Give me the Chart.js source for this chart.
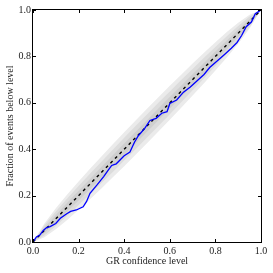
<!DOCTYPE html>
<html>
<head>
<meta charset="utf-8">
<script src="https://cdn.jsdelivr.net/npm/chart.js@4.4.1/dist/chart.umd.min.js"></script>
<style>
  html, body { margin: 0; padding: 0; background: #fff; }
  #wrap { width: 273px; height: 273px; }
</style>
</head>
<body>
<div id="wrap"><canvas id="pp"></canvas></div>
<script>
"use strict";

// measured P-P curve (GR confidence level vs fraction of events below it)
const confLevel = [0, 0.015, 0.03, 0.045, 0.06, 0.075, 0.1, 0.12, 0.148, 0.165, 0.19, 0.22, 0.235, 0.25,
    0.28, 0.31, 0.33, 0.345, 0.365, 0.40, 0.425, 0.445, 0.462, 0.49, 0.513, 0.54, 0.565, 0.588, 0.6,
    0.63, 0.66, 0.69, 0.72, 0.75, 0.775, 0.81, 0.84, 0.87, 0.895, 0.915, 0.935, 0.958, 0.975, 1];
const fracBelow = [0, 0.022, 0.03, 0.05, 0.062, 0.066, 0.08, 0.102, 0.122, 0.132, 0.138, 0.152, 0.175, 0.21,
    0.245, 0.282, 0.31, 0.33, 0.337, 0.372, 0.388, 0.43, 0.458, 0.49, 0.524, 0.533, 0.555, 0.562, 0.597,
    0.612, 0.646, 0.668, 0.695, 0.722, 0.752, 0.782, 0.808, 0.835, 0.86, 0.89, 0.928, 0.948, 0.984, 1];

// confidence bands: half widths around the diagonal
const bandX = [0, 0.05, 0.1, 0.15, 0.2, 0.25, 0.3, 0.35, 0.4, 0.45, 0.5, 0.55, 0.6, 0.65, 0.7, 0.75, 0.8, 0.85, 0.9, 0.95, 1];
const width1 = [0, 0.011, 0.016, 0.019, 0.021, 0.022, 0.023, 0.024, 0.025, 0.025, 0.025, 0.025, 0.025, 0.024, 0.023, 0.022, 0.021, 0.019, 0.016, 0.011, 0];
const width2 = [0, 0.022, 0.031, 0.037, 0.041, 0.044, 0.046, 0.048, 0.049, 0.050, 0.050, 0.050, 0.049, 0.048, 0.046, 0.044, 0.041, 0.037, 0.031, 0.022, 0];
const width3 = [0, 0.030, 0.045, 0.055, 0.061, 0.066, 0.069, 0.071, 0.073, 0.074, 0.074, 0.074, 0.073, 0.071, 0.069, 0.066, 0.061, 0.055, 0.045, 0.030, 0];

const tickValues = [0, 0.2, 0.4, 0.6, 0.8, 1.0];

const pts = (xs, ys) => xs.map((x, i) => ({x: x, y: ys[i]}));
const upper = (w) => pts(bandX, bandX.map((x, i) => x + w[i]));
const lower = (w) => pts(bandX, bandX.map((x, i) => x - w[i]));

const band = (data, fill, color, order) => ({
    data: data,
    borderWidth: 0,
    pointRadius: 0,
    fill: fill,
    backgroundColor: color,
    order: order,
});

const frameTicks = {
    id: "frameTicks",
    afterDraw(chart) {
        const ctx = chart.ctx;
        const a = chart.chartArea;
        const xs = chart.scales.x;
        const ys = chart.scales.y;
        ctx.save();
        ctx.strokeStyle = "#000";
        ctx.lineWidth = 1;
        ctx.strokeRect(a.left - 0.5, a.top - 0.5, a.right - a.left + 1, a.bottom - a.top + 1);
        ctx.beginPath();
        tickValues.forEach(v => {
            const px = Math.round(xs.getPixelForValue(v)) + 0.5;
            ctx.moveTo(px, a.bottom); ctx.lineTo(px, a.bottom - 3);
            ctx.moveTo(px, a.top); ctx.lineTo(px, a.top + 3);
            const py = Math.round(ys.getPixelForValue(v)) + 0.5;
            ctx.moveTo(a.left, py); ctx.lineTo(a.left + 3, py);
            ctx.moveTo(a.right, py); ctx.lineTo(a.right - 3, py);
        });
        ctx.stroke();
        ctx.restore();
    }
};

const serif = {family: "'Liberation Serif', 'DejaVu Serif', serif", size: 10};

new Chart(document.getElementById("pp"), {
    type: "line",
    data: {
        datasets: [
            {
                data: pts(confLevel, fracBelow),
                borderColor: "#0000ff",
                borderWidth: 1.3,
                tension: 0,
                pointRadius: 0,
                fill: false,
                order: 0,
            },
            {
                data: pts([0, 1], [0, 1]),
                borderColor: "#000",
                borderWidth: 1.4,
                borderDash: [3, 3.5],
                pointRadius: 0,
                fill: false,
                order: 1,
            },
            band(upper(width1), "+1", "#cfcfcf", 3),
            band(lower(width1), false, "#cfcfcf", 2),
            band(upper(width2), "+1", "#dcdcdc", 5),
            band(lower(width2), false, "#dcdcdc", 4),
            band(upper(width3), "+1", "#ebebeb", 7),
            band(lower(width3), false, "#ebebeb", 6),
        ],
    },
    options: {
        responsive: true,
        maintainAspectRatio: false,
        animation: false,
        events: [],
        layout: {padding: {left: 0, top: 10, right: 12, bottom: 0}},
        plugins: {
            legend: {display: false},
            tooltip: {enabled: false},
        },
        scales: {
            x: {
                type: "linear",
                min: 0,
                max: 1,
                afterFit: (s) => { s.height = 31; },
                afterBuildTicks: (s) => { s.ticks = tickValues.map(v => ({value: v})); },
                grid: {display: false, drawTicks: false},
                border: {display: false},
                ticks: {
                    font: serif,
                    color: "#222",
                    padding: 3,
                    maxRotation: 0,
                    callback: (v) => v.toFixed(1),
                },
                title: {
                    display: true,
                    text: "GR confidence level",
                    font: serif,
                    color: "#222",
                    padding: {top: 0, bottom: 6},
                },
            },
            y: {
                type: "linear",
                min: 0,
                max: 1,
                afterFit: (s) => { s.width = 33; },
                afterBuildTicks: (s) => { s.ticks = tickValues.map(v => ({value: v})); },
                grid: {display: false, drawTicks: false},
                border: {display: false},
                ticks: {
                    font: serif,
                    color: "#222",
                    padding: 2,
                    callback: (v) => v.toFixed(1),
                },
                title: {
                    display: true,
                    text: "Fraction of events below level",
                    font: serif,
                    color: "#222",
                    padding: {top: 4, bottom: 0},
                },
            },
        },
    },
    plugins: [frameTicks],
});
</script>
</body>
</html>
